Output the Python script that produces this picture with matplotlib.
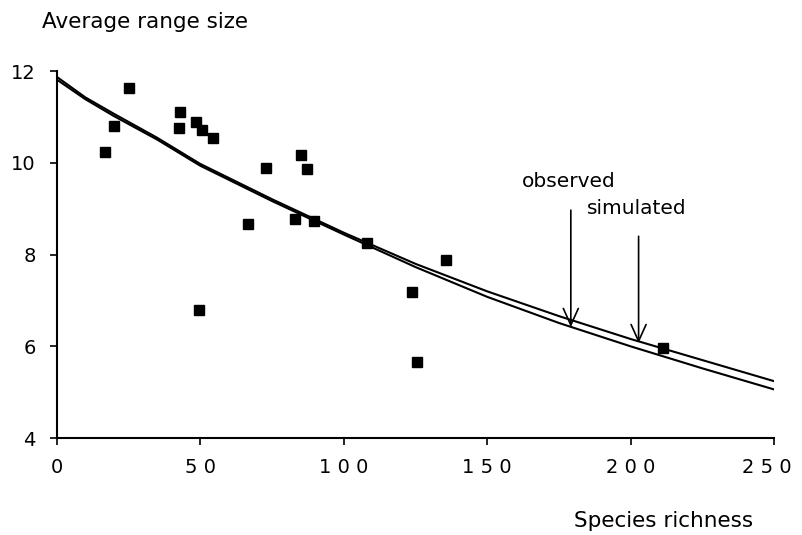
import matplotlib
matplotlib.use("Agg")
import matplotlib.pyplot as plt
import matplotlib.transforms as mtransforms

plt.rcParams['font.family'] = ['DejaVu Sans']

# Observed data points (species richness, average range size)
richness = [16.9, 20.0, 25.3, 43.0, 42.7, 48.6, 50.7, 54.5, 49.7, 66.8,
            72.8, 85.2, 87.2, 83.2, 89.6, 108.1, 123.9, 125.5, 135.6, 211.2]
range_size = [10.23, 10.80, 11.63, 11.10, 10.76, 10.89, 10.71, 10.54, 6.80, 8.67,
              9.89, 10.18, 9.86, 8.77, 8.74, 8.26, 7.19, 5.66, 7.89, 5.97]

# Fitted curves
curve_x = [0, 10, 20, 35, 50, 75, 100, 125, 150, 175, 200, 225, 250]
simulated = [11.88, 11.43, 11.07, 10.55, 9.98, 9.21, 8.48, 7.80, 7.20, 6.66, 6.16, 5.70, 5.24]
observed = [11.82, 11.39, 11.02, 10.51, 9.94, 9.17, 8.44, 7.73, 7.08, 6.51, 6.00, 5.52, 5.06]

x_ticks = [0, 50, 100, 150, 200, 250]
x_tick_labels = ["0", "5 0", "1 0 0", "1 5 0", "2 0 0", "2 5 0"]
y_ticks = [4, 6, 8, 10, 12]

fig = plt.figure(figsize=(8.03, 5.35), dpi=100)
ax = fig.add_axes([0.0704, 0.181, 0.894, 0.686])

ax.plot(curve_x, simulated, color='black', lw=1.5)
ax.plot(curve_x, observed, color='black', lw=1.5)
ax.plot(richness, range_size, linestyle='none', marker='s', markersize=6.8,
        color='black')

ax.set_xlim(0, 250)
ax.set_ylim(4, 12)
ax.set_xticks(x_ticks)
ax.set_xticklabels(x_tick_labels)
ax.set_yticks(y_ticks)
ax.tick_params(axis='both', direction='out', length=5, width=1.2, labelsize=14,
               colors='black')
ax.tick_params(axis='x', pad=9)
ax.tick_params(axis='y', pad=10)
last = ax.get_xticklabels()[-1]
last.set_transform(last.get_transform() +
                   mtransforms.ScaledTranslation(-8 / 100, 0, fig.dpi_scale_trans))
for s in ['top', 'right']:
    ax.spines[s].set_visible(False)
for s in ['left', 'bottom']:
    ax.spines[s].set_linewidth(1.5)

# Arrows with labels
ax.annotate('', xy=(179.1, 6.42), xytext=(179.1, 8.97),
            arrowprops=dict(arrowstyle='->,head_length=1.0,head_width=0.45',
                            mutation_scale=12, lw=1.2, color='black',
                            shrinkA=0, shrinkB=0))
ax.annotate('', xy=(202.7, 6.07), xytext=(202.7, 8.40),
            arrowprops=dict(arrowstyle='->,head_length=1.0,head_width=0.45',
                            mutation_scale=12, lw=1.2, color='black',
                            shrinkA=0, shrinkB=0))
fig.text(569 / 803, 1 - 181 / 535, 'observed', ha='center', va='center', fontsize=14.5)
fig.text(637 / 803, 1 - 208 / 535, 'simulated', ha='center', va='center', fontsize=14.5)

fig.text(42 / 803, 1 - 22 / 535, 'Average range size', ha='left', va='center', fontsize=15.5)
fig.text(664 / 803, 1 - 521 / 535, 'Species richness', ha='center', va='center', fontsize=15.5)

fig.savefig('out.png', dpi=100)
